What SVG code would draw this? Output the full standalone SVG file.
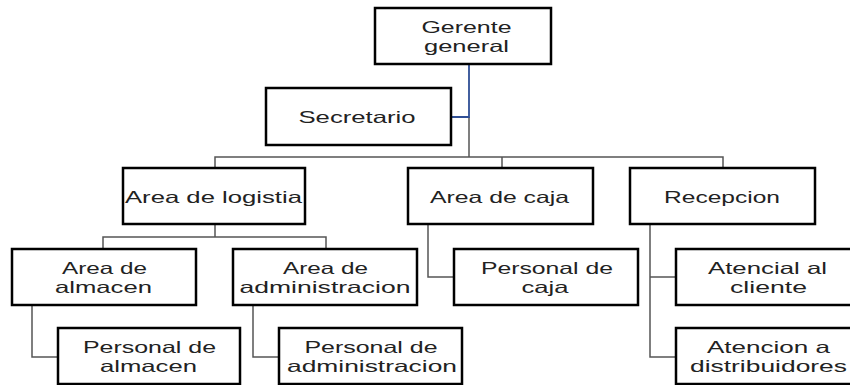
<svg xmlns="http://www.w3.org/2000/svg" width="850" height="385" viewBox="0 0 850 385">
<style>
.box{fill:#fff;stroke:#000;stroke-width:2.5}
.c{fill:none;stroke:#555;stroke-width:1.5}
.b{fill:none;stroke:#2F4F95;stroke-width:1.8}
text{font-family:"Liberation Sans",Arial,sans-serif;font-size:16.5px;fill:#222;text-anchor:middle}
</style>
<rect width="850" height="385" fill="#fff"/>
<g id="connectors">
<polyline class="c" points="469,117 469,157"/>
<polyline class="b" points="469,64 469,117 451,117"/>
<polyline class="c" points="215,168 215,157 723,157 723,168"/>
<polyline class="c" points="502,157 502,168"/>
<polyline class="c" points="215,224 215,237"/>
<polyline class="c" points="103,249 103,237 326,237 326,249"/>
<polyline class="c" points="32,305 32,357 58,357"/>
<polyline class="c" points="253,305 253,357 279,357"/>
<polyline class="c" points="428,224 428,277 454,277"/>
<polyline class="c" points="650,224 650,357 676,357"/>
<polyline class="c" points="650,277 676,277"/>
</g>
<g id="gerente">
<rect class="box" x="375" y="8" width="176" height="56"/>
<text x="466.5" y="33" textLength="90" lengthAdjust="spacingAndGlyphs">Gerente</text>
<text x="466.5" y="51.5" textLength="85" lengthAdjust="spacingAndGlyphs">general</text>
</g>
<g id="secretario">
<rect class="box" x="266" y="88" width="185" height="57"/>
<text x="357" y="123" textLength="117" lengthAdjust="spacingAndGlyphs">Secretario</text>
</g>
<g id="logistia">
<rect class="box" x="123" y="168" width="182" height="56"/>
<text x="213.5" y="203" textLength="177" lengthAdjust="spacingAndGlyphs">Area de logistia</text>
</g>
<g id="caja">
<rect class="box" x="408" y="168" width="185" height="56"/>
<text x="499.5" y="203" textLength="139" lengthAdjust="spacingAndGlyphs">Area de caja</text>
</g>
<g id="recepcion">
<rect class="box" x="630" y="168" width="185" height="56"/>
<text x="722" y="203" textLength="116" lengthAdjust="spacingAndGlyphs">Recepcion</text>
</g>
<g id="almacen">
<rect class="box" x="12" y="249" width="184" height="56"/>
<text x="104.5" y="274" textLength="85" lengthAdjust="spacingAndGlyphs">Area de</text>
<text x="103.5" y="292.5" textLength="97" lengthAdjust="spacingAndGlyphs">almacen</text>
</g>
<g id="administracion">
<rect class="box" x="233" y="249" width="184" height="56"/>
<text x="325.5" y="274" textLength="85" lengthAdjust="spacingAndGlyphs">Area de</text>
<text x="325" y="292.5" textLength="171" lengthAdjust="spacingAndGlyphs">administracion</text>
</g>
<g id="personal-almacen">
<rect class="box" x="58" y="328" width="182" height="56"/>
<text x="149.5" y="353" textLength="133" lengthAdjust="spacingAndGlyphs">Personal de</text>
<text x="148.5" y="371.5" textLength="97" lengthAdjust="spacingAndGlyphs">almacen</text>
</g>
<g id="personal-administracion">
<rect class="box" x="279" y="328" width="183" height="56"/>
<text x="371" y="353" textLength="133" lengthAdjust="spacingAndGlyphs">Personal de</text>
<text x="372" y="371.5" textLength="170" lengthAdjust="spacingAndGlyphs">administracion</text>
</g>
<g id="personal-caja">
<rect class="box" x="454" y="249" width="184" height="56"/>
<text x="547" y="274" textLength="132" lengthAdjust="spacingAndGlyphs">Personal de</text>
<text x="545" y="292.5" textLength="47" lengthAdjust="spacingAndGlyphs">caja</text>
</g>
<g id="atencion-cliente">
<rect class="box" x="676" y="249" width="184" height="56"/>
<text x="767.5" y="274" textLength="119" lengthAdjust="spacingAndGlyphs">Atencial al</text>
<text x="768.5" y="292.5" textLength="77" lengthAdjust="spacingAndGlyphs">cliente</text>
</g>
<g id="atencion-distribuidores">
<rect class="box" x="676" y="328" width="184" height="56"/>
<text x="768.5" y="353" textLength="123" lengthAdjust="spacingAndGlyphs">Atencion a</text>
<text x="768.5" y="371.5" textLength="157" lengthAdjust="spacingAndGlyphs">distribuidores</text>
</g>
</svg>
